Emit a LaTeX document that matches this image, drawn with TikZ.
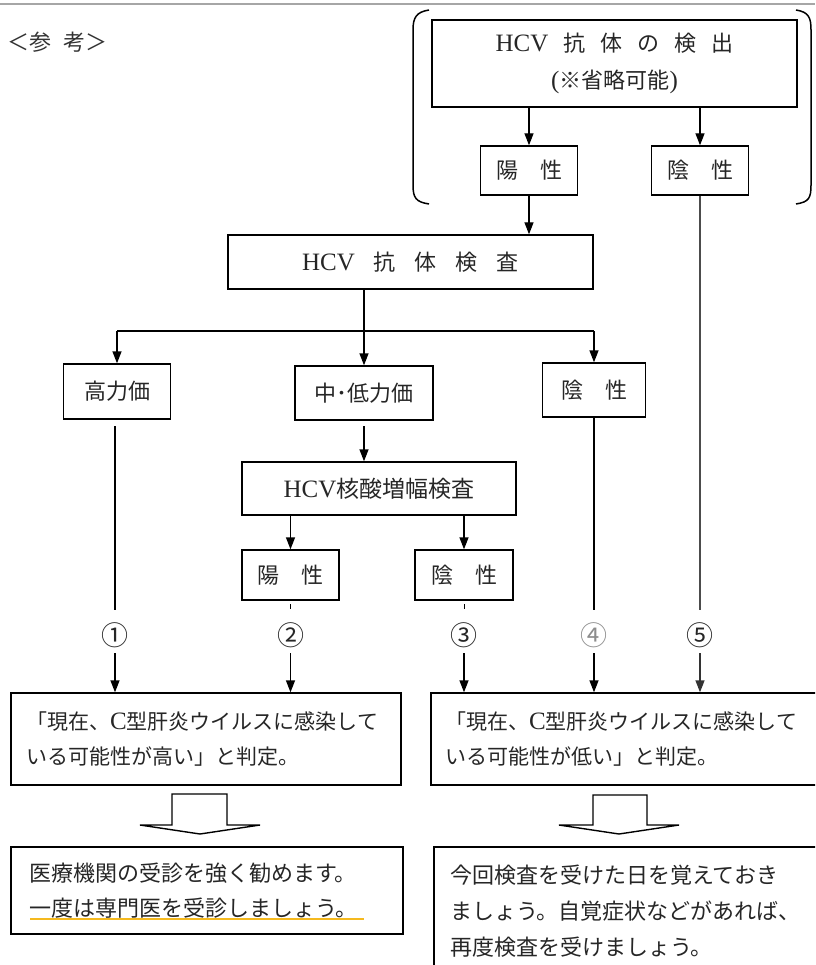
\documentclass[tikz,border=0pt]{standalone}
\usepackage{fontspec}
\setmainfont{Noto Sans CJK JP}
\newfontfamily\latf{Liberation Serif}
\usetikzlibrary{arrows.meta}
\newcommand\fsz[2]{\fontsize{#1pt}{#2pt}\selectfont}
\newcommand\sq{\hspace{15pt}}
\newcommand\sqb{\hspace{19pt}}
\newcommand\hcv{{\latf\fontsize{25pt}{30pt}\selectfont HCV}}
\newcommand\lp[1]{{\latf\fontsize{25pt}{30pt}\selectfont #1}}
\definecolor{ulcol}{RGB}{245,185,30}
\begin{document}
\begin{tikzpicture}[x=1pt,y=-1pt,
  box/.style={draw, line width=1.4pt, inner sep=0pt, align=center, font=\fsz{22}{37}, text=black!85},
  lbox/.style={box, align=left},
  ln/.style={line width=1.4pt},
  arr/.style={line width=1.4pt, -{Triangle[width=9pt,length=12pt]}},
  num/.style={font=\fsz{27}{30}, text=black!85, inner sep=0pt},
  hollow/.style={draw, line width=1.4pt, fill=white}
]
\useasboundingbox (0,0) rectangle (815,965);
\clip (0,0) rectangle (815,965);
% top rule
\draw[gray!70, line width=2pt] (0,4) -- (815,4);
\node[font=\fsz{22}{26}, text=black!80, anchor=west, inner sep=0pt] (ref) at (7,42) {＜参\hspace{12pt}考＞};
% brackets
\draw[line width=1.5pt] (429,10) .. controls (416,12) and (413,18) .. (413,30) -- (413,185) .. controls (413,198) and (416,202) .. (429,204);
\draw[line width=1.5pt] (796,10) .. controls (809,12) and (811,18) .. (811,30) -- (811,185) .. controls (811,198) and (809,202) .. (796,204);
% boxes
\node[box, minimum width=365pt, minimum height=87pt] (detect) at (614.5,63.5) {\hcv\sq 抗\sq 体\sq の\sq 検\sq 出\\\lp{(}※省略可能\lp{)}};
\node[box, minimum width=97pt, minimum height=49pt] (pos1) at (529,170.5) {陽　性};
\node[box, minimum width=97pt, minimum height=49pt] (neg1) at (700,170.5) {陰　性};
\node[box, minimum width=365pt, minimum height=54pt] (abtest) at (410.5,262) {\hcv\sqb 抗\sqb 体\sqb 検\sqb 査};
\node[box, minimum width=107pt, minimum height=55pt] (high) at (117,391.5) {高力価};
\node[box, minimum width=138pt, minimum height=54pt] (midlow) at (364,393) {中･低力価};
\node[box, minimum width=103pt, minimum height=54pt] (neg2) at (594,390) {陰　性};
\node[box, minimum width=274pt, minimum height=53pt, font=\fsz{23}{30}] (nat) at (379,488.5) {\hcv 核酸増幅検査};
\node[box, minimum width=97pt, minimum height=50pt] (pos3) at (290.5,575) {陽　性};
\node[box, minimum width=98pt, minimum height=50pt] (neg3) at (464,575) {陰　性};
% numbers
\node[num] (n1) at (115,635) {①};
\node[num] (n2) at (290.5,635) {②};
\node[num] (n3) at (464,635) {③};
\node[num, text=black!45] (n4) at (594,635) {④};
\node[num] (n5) at (700,635) {⑤};
% result boxes
\node[lbox, minimum width=390pt, minimum height=92pt, text width=360pt, inner xsep=15pt, font=\fsz{21}{35}] (res1) at (206,739) {「現在、\lp{C}型肝炎ウイルスに感染して\\いる可能性が高い」と判定。};
\node[lbox, minimum width=394pt, minimum height=92pt, text width=366pt, inner xsep=14pt, font=\fsz{21}{35}] (res2) at (628,739) {「現在、\lp{C}型肝炎ウイルスに感染して\\いる可能性が低い」と判定。};
\node[lbox, minimum width=392pt, minimum height=87pt, text width=356pt, inner xsep=18pt, font=\fsz{22}{35}] (adv1) at (207,890.5) {医療機関の受診を強く勧めます。\\一度は専門医を受診しましょう。};
\node[lbox, minimum width=391pt, minimum height=128pt, text width=359pt, inner xsep=16pt, font=\fsz{22}{36}] (adv2) at (629.5,911) {今回検査を受けた日を覚えておき\\ましょう。自覚症状などがあれば、\\再度検査を受けましょう。};
% underline
\draw[ulcol, line width=1.6pt] (30,919) -- (364,919);
% connectors
\draw[arr] (detect.south -| pos1) -- (pos1.north);
\draw[arr] (detect.south -| neg1) -- (neg1.north);
\draw[arr] (pos1.south) -- (pos1.south |- abtest.north);
\draw[line width=1.1pt, black!70] (neg1.south) -- (n5 |- 0,610);
\draw[ln] (abtest.south -| midlow) -- (midlow |- 0,331);
\draw[ln] (high |- 0,331) -- (neg2 |- 0,331);
\draw[arr] (high |- 0,331) -- (high.north);
\draw[arr] (midlow |- 0,331) -- (midlow.north);
\draw[arr] (neg2 |- 0,331) -- (neg2.north);
\draw[ln] (n1 |- 0,426) -- (n1 |- 0,610);
\draw[arr] (midlow |- 0,426) -- (midlow |- nat.north);
\draw[ln] (neg2.south) -- (n4 |- 0,610);
\draw[arr] (nat.south -| pos3) -- (pos3.north);
\draw[arr] (nat.south -| neg3) -- (neg3.north);
\draw[line width=1pt] (n2 |- 0,604) -- (n2 |- 0,609);
\draw[line width=1pt] (n3 |- 0,604) -- (n3 |- 0,609);
\draw[arr] (n1 |- 0,653) -- (n1 |- res1.north);
\draw[arr] (n2 |- 0,653) -- (n2 |- res1.north);
\draw[arr] (n3 |- 0,653) -- (n3 |- res2.north);
\draw[arr] (n4 |- 0,653) -- (n4 |- res2.north);
\draw[arr, black!80] (n5 |- 0,653) -- (n5 |- res2.north);
% hollow arrows
\draw[hollow] (172,794) -- (227,794) -- (227,825) -- (260,825) -- (200,834) -- (140,825) -- (172,825) -- cycle;
\draw[hollow] (593,795) -- (647,795) -- (647,825) -- (679,825) -- (619,834) -- (559,825) -- (593,825) -- cycle;
\end{tikzpicture}
\end{document}
